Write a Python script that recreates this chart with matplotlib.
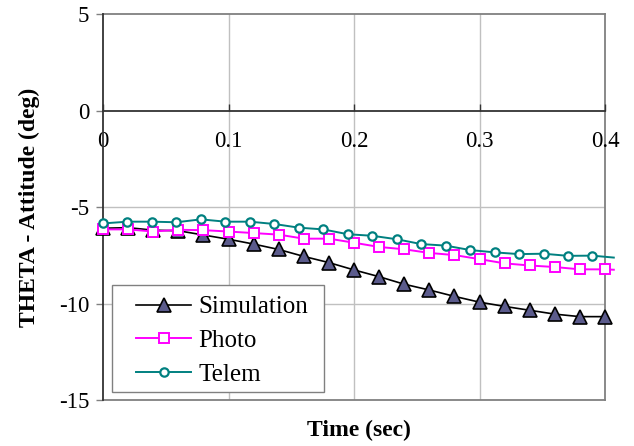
import matplotlib
matplotlib.use("Agg")
import matplotlib.pyplot as plt
from matplotlib.patches import Rectangle

plt.rcParams['font.family'] = ['Liberation Serif', 'DejaVu Serif']

# Sample times (s)
sim_t = [0.00, 0.02, 0.04, 0.06, 0.08, 0.10, 0.12, 0.14, 0.16, 0.18, 0.20,
         0.22, 0.24, 0.26, 0.28, 0.30, 0.32, 0.34, 0.36, 0.38, 0.40]
photo_t = [0.00, 0.02, 0.04, 0.06, 0.08, 0.10, 0.12, 0.14, 0.16, 0.18, 0.20,
           0.22, 0.24, 0.26, 0.28, 0.30, 0.32, 0.34, 0.36, 0.38, 0.40, 0.407]
telem_t = [0.0, 0.0195, 0.039, 0.0585, 0.078, 0.0975, 0.117, 0.1365, 0.156,
           0.1755, 0.195, 0.2145, 0.234, 0.2535, 0.273, 0.2925, 0.312, 0.3315,
           0.351, 0.3705, 0.39, 0.407]

# Pitch attitude (deg)
simulation = [-6.10, -6.07, -6.20, -6.23, -6.45, -6.67, -6.92, -7.20, -7.56,
              -7.88, -8.26, -8.61, -9.00, -9.30, -9.63, -9.93, -10.15, -10.35,
              -10.55, -10.68, -10.68]
photo = [-6.16, -6.16, -6.27, -6.18, -6.20, -6.27, -6.35, -6.43, -6.64, -6.64,
         -6.85, -7.07, -7.19, -7.38, -7.49, -7.70, -7.92, -8.03, -8.11, -8.23,
         -8.23, -8.25]
telem = [-5.85, -5.76, -5.76, -5.79, -5.64, -5.76, -5.76, -5.88, -6.07, -6.16,
         -6.41, -6.49, -6.67, -6.92, -7.00, -7.23, -7.35, -7.44, -7.42, -7.53,
         -7.52, -7.62]

x_ticks = [0, 0.1, 0.2, 0.3, 0.4]
x_tick_labels = ['0', '0.1', '0.2', '0.3', '0.4']
y_ticks = [-15, -10, -5, 0, 5]
y_tick_labels = ['-15', '-10', '-5', '0', '5']

fig = plt.figure(figsize=(6.34, 4.46), dpi=100)
ax = fig.add_axes([0.1625, 0.1031, 0.7918, 0.8655])

ax.set_xlim(0, 0.4)
ax.set_ylim(-15, 5)

# light grid
for xv in x_ticks[1:-1]:
    ax.axvline(xv, color='#c0c0c0', lw=1.0, zorder=0)
for yv in [-10, -5]:
    ax.axhline(yv, color='#c0c0c0', lw=1.0, zorder=0)

# plot-area border
border_kw = dict(color='#808080', lw=1.3, clip_on=False, zorder=1)
ax.axhline(-15, **border_kw)
ax.axhline(5, **border_kw)
ax.axvline(0.4, **border_kw)

ax.plot(sim_t, simulation, color='black', lw=1.2, marker='^', markersize=9.5,
        markerfacecolor='#5b5b8c', markeredgecolor='black', markeredgewidth=1.2,
        label='Simulation', zorder=3, clip_on=False)
ax.plot(photo_t, photo, color='#ff00ff', lw=1.4, marker='s', markersize=7,
        markerfacecolor='white', markeredgecolor='#ff00ff', markeredgewidth=1.4,
        markevery=slice(0, 21), label='Photo', zorder=4, clip_on=False)
ax.plot(telem_t, telem, color='#008080', lw=1.4, marker='o', markersize=6,
        markerfacecolor='white', markeredgecolor='#008080', markeredgewidth=1.6,
        markevery=slice(0, 21), label='Telem', zorder=5, clip_on=False)

# axes crossing at the origin
for side in ['top', 'right']:
    ax.spines[side].set_visible(False)
ax.spines['bottom'].set_position(('data', 0))
ax.spines['bottom'].set_color('#333333')
ax.spines['bottom'].set_linewidth(1.3)
ax.spines['bottom'].set_zorder(2)
ax.spines['left'].set_color('#333333')
ax.spines['left'].set_linewidth(1.3)

ax.set_xticks(x_ticks)
ax.set_xticklabels(x_tick_labels)
ax.set_yticks(y_ticks)
ax.set_yticklabels(y_tick_labels)
ax.tick_params(axis='x', direction='in', length=5, width=1.0, color='#333333',
               labelsize=16.5, pad=15)
ax.tick_params(axis='y', direction='out', length=5, width=1.0, color='#808080',
               labelsize=16.5, pad=5)

fig.text(0.566, 0.035, 'Time (sec)', ha='center', va='center',
         fontsize=17, fontweight='bold')
fig.text(0.047, 0.535, 'THETA - Attitude (deg)', ha='center', va='center',
         rotation=90, fontsize=17, fontweight='bold')

# legend box drawn separately so its padding can be set freely
ax.add_patch(Rectangle((0.018, 0.0207), 0.422, 0.2773, transform=ax.transAxes,
                       facecolor='white', edgecolor='#808080', lw=1.0,
                       zorder=6, clip_on=False))
leg = ax.legend(loc='upper left', bbox_to_anchor=(0.0657, 0.270),
                borderaxespad=0, borderpad=0, fontsize=18, frameon=False,
                handlelength=2.2, handletextpad=0.3, labelspacing=0.45)
leg.set_zorder(7)

fig.savefig('out.png', dpi=100)
